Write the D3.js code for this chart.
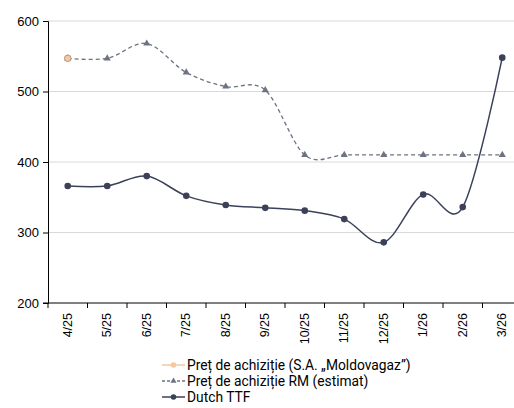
<!DOCTYPE html>
<html>
<head>
<meta charset="utf-8">
<script src="https://cdn.jsdelivr.net/npm/d3@7"></script>
<style>
  body { margin: 0; background: #fff; }
  svg { display: block; }
</style>
</head>
<body>
<div id="chart"></div>
<script>
'use strict';

// months on the x axis
const months = ['4/25', '5/25', '6/25', '7/25', '8/25', '9/25', '10/25', '11/25', '12/25', '1/26', '2/26', '3/26'];

// Pret de achizitie (S.A. Moldovagaz) - only the first month
const moldovagaz = [547, null, null, null, null, null, null, null, null, null, null, null];
// Pret de achizitie RM (estimat)
const rmEstimat = [547, 547, 568, 527, 507, 502, 410, 410, 410, 410, 410, 410];
// Dutch TTF
const dutchTTF = [366, 366, 380, 352, 339, 335, 331, 319, 286, 354, 336, 548];

const yTicks = [200, 300, 400, 500, 600];
const legendLabels = ['Preț de achiziție (S.A. „Moldovagaz”)', 'Preț de achiziție RM (estimat)', 'Dutch TTF'];

const width = 514, height = 408;
const margin = {top: 21, right: -8, bottom: 105, left: 48};

const svg = d3.select('#chart').append('svg').attr('width', width).attr('height', height);

const x = d3.scaleBand().domain(months).range([margin.left, width - margin.right]);
const y = d3.scaleLinear().domain([200, 600]).range([height - margin.bottom, margin.top]);
const cx = d => x(d) + x.bandwidth() / 2;

// grid lines
svg.append('g')
  .selectAll('line')
  .data(yTicks.filter(t => t > 200))
  .join('line')
  .attr('x1', margin.left).attr('x2', width)
  .attr('y1', d => y(d)).attr('y2', d => y(d))
  .attr('stroke', '#d9d9d9').attr('stroke-width', 1);

// y axis
const yAxis = svg.append('g')
  .attr('transform', `translate(${margin.left},0)`)
  .call(d3.axisLeft(y).tickValues(yTicks).tickSize(5).tickPadding(4));
yAxis.select('.domain').attr('stroke', '#000');
yAxis.selectAll('.tick line').attr('stroke', '#000');
yAxis.selectAll('text')
  .attr('font-family', 'Liberation Sans, Arial, sans-serif')
  .attr('font-size', 13).attr('fill', '#000');

// x axis: ticks at band edges
const xAxisG = svg.append('g').attr('transform', `translate(0,${y(200)})`);
xAxisG.append('line')
  .attr('x1', margin.left - 5).attr('x2', width)
  .attr('y1', 0).attr('y2', 0).attr('stroke', '#000');
xAxisG.selectAll('.edge')
  .data(months)
  .join('line')
  .attr('class', 'edge')
  .attr('x1', d => x(d)).attr('x2', d => x(d))
  .attr('y1', 0).attr('y2', 5).attr('stroke', '#000');
xAxisG.selectAll('text')
  .data(months)
  .join('text')
  .attr('transform', d => `translate(${cx(d) + 4},10) rotate(-90)`)
  .attr('text-anchor', 'end')
  .attr('font-family', 'Liberation Sans, Arial, sans-serif')
  .attr('font-size', 12.5).attr('fill', '#000')
  .text(d => d);

const line = d3.line()
  .defined(d => d.v != null)
  .x(d => cx(d.m))
  .y(d => y(d.v))
  .curve(d3.curveCardinal.tension(0));

const toPts = arr => arr.map((v, i) => ({m: months[i], v: v}));

const colRM = '#6e7383';
const colTTF = '#3b4159';
const colMg = '#f8c79d';

// RM estimat
svg.append('path')
  .attr('fill', 'none').attr('stroke', colRM).attr('stroke-width', 1.3)
  .attr('stroke-dasharray', '4,3')
  .attr('d', line(toPts(rmEstimat)));
const tri = d3.symbol().type(d3.symbolTriangle).size(22);
svg.append('g').selectAll('path')
  .data(toPts(rmEstimat).filter(d => d.v != null))
  .join('path')
  .attr('transform', d => `translate(${cx(d.m)},${y(d.v)})`)
  .attr('d', tri).attr('fill', colRM);

// Dutch TTF
svg.append('path')
  .attr('fill', 'none').attr('stroke', colTTF).attr('stroke-width', 1.5)
  .attr('d', line(toPts(dutchTTF)));
svg.append('g').selectAll('circle')
  .data(toPts(dutchTTF))
  .join('circle')
  .attr('cx', d => cx(d.m)).attr('cy', d => y(d.v))
  .attr('r', 3.3).attr('fill', colTTF);

// Moldovagaz
svg.append('g').selectAll('circle')
  .data(toPts(moldovagaz).filter(d => d.v != null))
  .join('circle')
  .attr('cx', d => cx(d.m)).attr('cy', d => y(d.v))
  .attr('r', 3.3).attr('fill', colMg).attr('stroke', '#9a8a7c').attr('stroke-width', 0.8);

// legend
const legend = svg.append('g').attr('transform', 'translate(162,365)');
const styles = [
  {color: colMg, dash: null, marker: 'circle'},
  {color: colRM, dash: '3,2', marker: 'triangle'},
  {color: colTTF, dash: null, marker: 'circle'}
];
legendLabels.forEach((lab, i) => {
  const g = legend.append('g').attr('transform', `translate(0,${i * 16})`);
  g.append('line').attr('x1', 0).attr('x2', 23).attr('y1', 0).attr('y2', 0)
    .attr('stroke', styles[i].color).attr('stroke-width', 1.5)
    .attr('stroke-dasharray', styles[i].dash);
  if (styles[i].marker === 'circle') {
    g.append('circle').attr('cx', 11.5).attr('cy', 0).attr('r', 2.8).attr('fill', styles[i].color);
  } else {
    g.append('path').attr('transform', 'translate(11.5,0)')
      .attr('d', d3.symbol().type(d3.symbolTriangle).size(16)).attr('fill', styles[i].color);
  }
  g.append('text').attr('x', 25).attr('y', 5)
    .attr('font-family', 'Roboto, sans-serif').attr('font-size', 13.8).attr('fill', '#000')
    .text(lab);
});
</script>
</body>
</html>
